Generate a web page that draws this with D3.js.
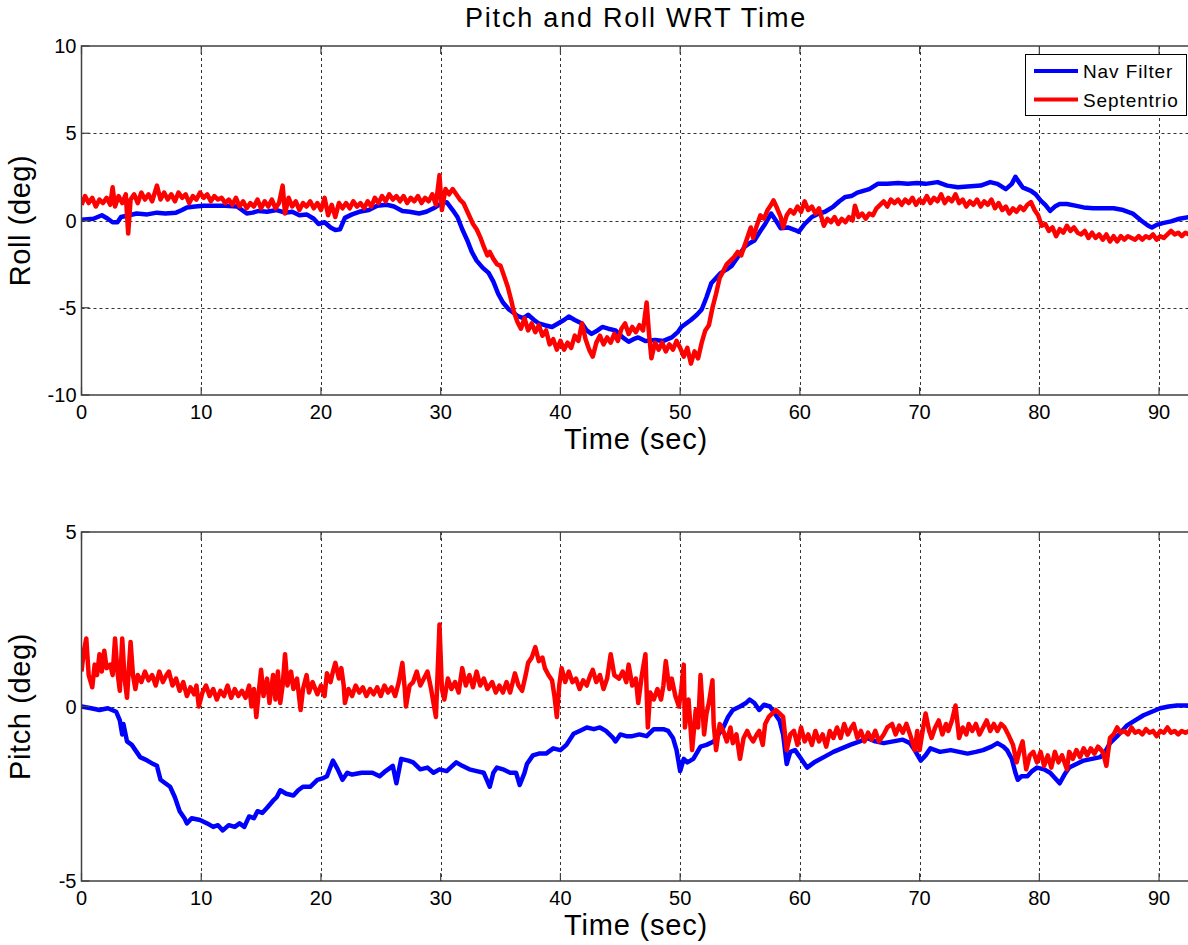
<!DOCTYPE html>
<html><head><meta charset="utf-8">
<script src="https://cdn.jsdelivr.net/npm/d3@7/dist/d3.min.js"></script>
<style>body{margin:0;background:#fff}svg{display:block}text{font-family:Arial,"Liberation Sans",sans-serif;fill:#000}</style>
</head><body><svg id="c" width="1188" height="945"></svg>
<script>
const title = "Pitch and Roll WRT Time";
const legendLabels = ["Nav Filter", "Septentrio"];
const colors = ["#0000ff", "#ff0000"];
const xTicks = [0,10,20,30,40,50,60,70,80,90];
const rollTicks = [-10,-5,0,5,10];
const pitchTicks = [-5,0,5];
const xLabel = "Time (sec)";
const rollLabel = "Roll (deg)";
const pitchLabel = "Pitch (deg)";

const rollNav = [[0,0.05],[1,0.1],[1.7,0.3],[2.2,0.1],[2.6,-0.1],[3.0,-0.1],[3.3,0.2],[4.0,0.3],[4.6,0.4],[5.5,0.35],[6.3,0.45],[7.0,0.4],[7.9,0.45],[8.4,0.6],[8.8,0.75],[9.5,0.8],[10.2,0.85],[11,0.85],[12,0.85],[13,0.8],[13.4,0.6],[13.8,0.4],[14.3,0.45],[14.8,0.55],[15.5,0.5],[16.3,0.6],[17.0,0.45],[17.6,0.5],[18.2,0.3],[18.8,0.35],[19.4,0.1],[19.8,-0.2],[20.3,-0.1],[20.8,-0.4],[21.2,-0.55],[21.6,-0.5],[22.0,0.15],[22.6,0.35],[23.2,0.5],[24.0,0.6],[24.7,0.85],[25.5,0.9],[26.1,0.8],[26.8,0.55],[27.4,0.5],[28.2,0.4],[28.8,0.5],[29.4,0.7],[30.1,1.0],[30.5,1.05],[31.0,0.6],[31.4,0.2],[31.8,-0.5],[32.2,-1.1],[32.6,-1.8],[33.0,-2.3],[33.5,-2.7],[34.0,-3.0],[34.4,-3.5],[34.8,-4.2],[35.2,-4.7],[35.7,-5.1],[36.1,-5.3],[36.5,-5.5],[36.9,-5.6],[37.3,-5.4],[37.8,-5.7],[38.2,-5.9],[38.7,-6.0],[39.3,-6.1],[39.8,-5.9],[40.3,-5.7],[40.7,-5.5],[41.2,-5.7],[41.8,-5.9],[42.2,-6.3],[42.6,-6.5],[43.1,-6.3],[43.5,-6.1],[44.0,-6.2],[44.6,-6.3],[45.2,-6.7],[45.7,-6.95],[46.1,-6.8],[46.5,-6.7],[47.1,-6.9],[47.9,-6.85],[48.6,-6.9],[49.3,-6.7],[49.8,-6.4],[50.1,-6.1],[50.5,-5.9],[50.9,-5.7],[51.4,-5.4],[51.8,-5.1],[52.2,-4.4],[52.6,-3.6],[53.0,-3.3],[53.4,-3.0],[53.9,-2.8],[54.3,-2.6],[54.8,-2.1],[55.4,-1.5],[55.8,-1.3],[56.2,-1.15],[56.7,-0.6],[57.1,-0.2],[57.6,0.4],[58.0,0.0],[58.4,-0.45],[59.0,-0.4],[59.6,-0.55],[59.9,-0.65],[60.4,-0.2],[61.0,0.2],[61.6,0.4],[62.1,0.5],[62.8,0.8],[63.3,1.1],[63.8,1.35],[64.3,1.4],[64.8,1.6],[65.3,1.7],[65.8,1.8],[66.5,2.1],[67.3,2.1],[68.2,2.15],[69.0,2.1],[69.8,2.15],[70.5,2.1],[71.5,2.2],[72.3,2.0],[73.2,1.9],[74.0,1.95],[75.1,2.0],[75.9,2.2],[76.5,2.1],[77.2,1.8],[77.7,2.1],[78.0,2.5],[78.3,2.2],[78.6,1.9],[79.3,1.7],[79.7,1.5],[80.1,1.15],[80.5,0.9],[80.9,0.55],[81.3,0.8],[81.7,0.95],[82.3,0.95],[83.0,0.85],[83.7,0.75],[84.5,0.7],[85.3,0.7],[86.2,0.7],[87.0,0.6],[87.8,0.4],[88.5,0.0],[89.1,-0.3],[89.4,-0.4],[89.8,-0.25],[90.3,-0.15],[91.0,-0.05],[91.7,0.1],[92.5,0.2]];

const rollSept = [[0,0.9],[0.3,1.4],[0.6,1.0],[0.9,1.3],[1.2,0.8],[1.5,1.2],[1.8,1.0],[2.1,1.3],[2.4,0.9],[2.6,1.9],[2.8,0.8],[3.1,1.4],[3.4,1.0],[3.7,1.5],[3.9,-0.75],[4.1,1.2],[4.4,1.5],[4.7,1.0],[5.0,1.6],[5.3,1.2],[5.6,1.5],[5.9,1.1],[6.3,2.0],[6.6,1.2],[6.9,1.6],[7.2,1.2],[7.5,1.5],[7.8,1.1],[8.1,1.6],[8.4,1.3],[8.7,1.5],[9.0,1.0],[9.3,1.4],[9.6,1.2],[9.9,1.6],[10.2,1.3],[10.5,1.5],[10.8,1.1],[11.1,1.4],[11.4,1.2],[11.7,1.3],[12.0,1.0],[12.3,1.2],[12.6,0.9],[12.9,1.3],[13.2,0.8],[13.5,1.1],[13.8,0.7],[14.1,1.0],[14.4,0.8],[14.7,1.2],[15.0,0.7],[15.3,1.1],[15.6,0.8],[15.9,1.2],[16.2,0.7],[16.5,1.0],[16.8,2.0],[17.0,0.4],[17.3,1.3],[17.6,0.8],[17.9,1.1],[18.2,0.6],[18.5,1.0],[18.8,0.8],[19.1,1.1],[19.4,0.7],[19.7,1.0],[20.0,0.6],[20.3,1.3],[20.6,0.3],[20.9,0.9],[21.2,0.2],[21.5,1.0],[21.8,0.7],[22.1,1.0],[22.4,0.7],[22.7,1.1],[23.0,0.8],[23.3,1.0],[23.6,0.7],[23.9,1.1],[24.2,0.8],[24.5,1.3],[24.8,1.0],[25.1,1.4],[25.4,1.1],[25.7,1.5],[26.0,1.2],[26.3,1.4],[26.6,1.1],[26.9,1.4],[27.2,1.0],[27.5,1.3],[27.8,1.1],[28.1,1.4],[28.4,1.0],[28.7,1.3],[29.0,1.1],[29.3,1.5],[29.6,0.9],[29.9,2.6],[30.1,0.6],[30.4,1.8],[30.7,1.5],[31.0,1.8],[31.3,1.5],[31.6,1.2],[31.9,1.0],[32.3,0.4],[32.7,-0.2],[33.0,-0.5],[33.3,-0.95],[33.6,-1.5],[33.9,-2.0],[34.1,-1.8],[34.4,-2.2],[34.7,-2.5],[35.0,-2.6],[35.3,-3.2],[35.6,-3.8],[35.9,-4.6],[36.1,-5.2],[36.4,-5.8],[36.7,-6.2],[37.0,-5.6],[37.3,-6.3],[37.6,-5.9],[37.9,-6.4],[38.2,-6.0],[38.5,-6.6],[38.8,-6.3],[39.1,-7.1],[39.4,-6.8],[39.7,-7.4],[40.0,-6.9],[40.3,-7.4],[40.6,-7.0],[40.9,-7.3],[41.2,-6.6],[41.5,-6.9],[41.8,-5.9],[42.1,-6.8],[42.4,-7.4],[42.7,-7.8],[43.0,-7.0],[43.3,-6.6],[43.6,-7.1],[43.9,-6.7],[44.2,-7.0],[44.5,-6.5],[44.8,-6.9],[45.1,-6.2],[45.4,-5.9],[45.7,-6.5],[46.0,-6.1],[46.3,-6.4],[46.6,-6.0],[46.9,-6.3],[47.2,-4.7],[47.4,-6.5],[47.6,-7.9],[47.9,-7.0],[48.2,-7.4],[48.5,-7.0],[48.8,-7.5],[49.1,-7.1],[49.4,-7.4],[49.7,-6.9],[50.0,-7.3],[50.3,-7.8],[50.6,-7.3],[50.9,-8.2],[51.2,-7.5],[51.5,-7.9],[51.8,-7.0],[52.1,-6.3],[52.4,-6.0],[52.7,-5.0],[53.0,-4.2],[53.3,-3.3],[53.6,-2.9],[53.9,-2.5],[54.2,-2.3],[54.5,-2.1],[54.8,-1.8],[55.1,-2.0],[55.4,-1.4],[55.7,-0.8],[55.9,-0.4],[56.1,-1.0],[56.4,-0.3],[56.7,0.3],[57.0,0.1],[57.3,0.6],[57.6,0.9],[57.8,1.15],[58.1,0.7],[58.4,0.2],[58.6,-0.4],[58.9,0.3],[59.2,0.6],[59.5,0.4],[59.8,0.8],[60.1,0.5],[60.4,1.1],[60.7,0.6],[61.0,0.8],[61.3,0.4],[61.6,0.7],[62.0,-0.3],[62.3,0.1],[62.6,-0.1],[62.9,0.2],[63.2,-0.2],[63.5,0.1],[63.8,-0.1],[64.1,0.2],[64.4,0.0],[64.6,0.85],[64.9,0.2],[65.2,0.4],[65.5,0.1],[65.8,0.4],[66.1,0.3],[66.4,0.7],[66.7,0.9],[67.0,1.1],[67.3,0.8],[67.6,1.2],[67.9,1.0],[68.2,1.2],[68.5,0.9],[68.8,1.2],[69.1,1.0],[69.4,1.3],[69.7,0.9],[70.0,1.2],[70.3,1.0],[70.6,1.4],[70.9,1.0],[71.2,1.3],[71.5,1.1],[71.8,1.5],[72.1,1.0],[72.4,1.3],[72.7,1.1],[73.0,1.5],[73.3,1.0],[73.6,1.2],[73.9,0.8],[74.2,1.1],[74.5,0.9],[74.8,1.2],[75.1,0.8],[75.4,1.1],[75.7,0.9],[76.0,1.2],[76.3,0.7],[76.6,1.0],[76.9,0.6],[77.2,0.8],[77.5,0.4],[77.8,0.7],[78.1,0.5],[78.4,0.8],[78.7,0.6],[79.0,0.9],[79.3,1.05],[79.6,0.6],[79.9,0.3],[80.2,-0.3],[80.5,-0.2],[80.8,-0.6],[81.1,-0.4],[81.4,-0.9],[81.7,-0.5],[82.0,-0.7],[82.3,-0.3],[82.6,-0.6],[82.9,-0.4],[83.2,-0.7],[83.5,-0.8],[83.8,-0.6],[84.1,-1.0],[84.4,-0.7],[84.7,-1.0],[85.0,-0.8],[85.3,-1.1],[85.6,-0.8],[85.9,-1.2],[86.2,-0.9],[86.5,-1.2],[86.8,-0.9],[87.1,-1.1],[87.4,-0.9],[87.7,-1.0],[88.0,-1.1],[88.3,-0.9],[88.6,-1.1],[88.9,-0.9],[89.2,-1.0],[89.5,-0.8],[89.8,-1.1],[90.1,-0.9],[90.4,-1.0],[90.7,-0.8],[91.0,-0.6],[91.3,-0.8],[91.6,-0.7],[91.9,-0.9],[92.2,-0.7],[92.5,-0.8]];

const pitchNav = [[0,0.0],[0.8,-0.05],[1.5,-0.1],[2.2,-0.05],[2.9,-0.15],[3.2,-0.4],[3.4,-0.8],[3.5,-0.5],[3.8,-1.0],[4.2,-1.1],[4.9,-1.45],[5.5,-1.55],[6.0,-1.65],[6.3,-1.7],[6.6,-2.1],[7.0,-2.2],[7.4,-2.3],[7.8,-2.6],[8.2,-3.0],[8.6,-3.2],[8.8,-3.35],[9.2,-3.2],[9.9,-3.25],[10.5,-3.35],[11.0,-3.45],[11.4,-3.4],[11.8,-3.55],[12.3,-3.4],[12.8,-3.45],[13.2,-3.35],[13.6,-3.45],[14.0,-3.15],[14.4,-3.2],[14.7,-3.0],[15.1,-3.05],[15.5,-2.9],[16.0,-2.7],[16.3,-2.6],[16.6,-2.4],[17.1,-2.5],[17.7,-2.55],[18.1,-2.4],[18.5,-2.3],[19.1,-2.3],[19.7,-2.1],[20.2,-2.05],[20.5,-2.0],[21.0,-1.55],[21.4,-1.8],[21.8,-2.1],[22.2,-1.9],[22.6,-1.95],[23.4,-1.9],[24.3,-1.9],[24.9,-2.0],[25.4,-1.85],[26.0,-1.7],[26.3,-2.2],[26.7,-1.5],[27.3,-1.55],[27.7,-1.6],[28.3,-1.8],[28.9,-1.75],[29.4,-1.9],[29.9,-1.8],[30.5,-1.85],[31.3,-1.6],[31.8,-1.7],[32.4,-1.8],[33.0,-1.85],[33.6,-1.9],[34.1,-2.3],[34.4,-1.9],[34.7,-1.75],[35.2,-1.8],[35.8,-1.9],[36.3,-1.9],[36.6,-2.25],[37.0,-1.9],[37.2,-1.65],[37.7,-1.4],[38.2,-1.35],[38.8,-1.35],[39.4,-1.2],[40.0,-1.25],[40.5,-1.1],[41.1,-0.78],[41.6,-0.7],[42.2,-0.6],[42.8,-0.65],[43.3,-0.6],[43.8,-0.7],[44.4,-0.9],[44.6,-1.0],[45.0,-0.8],[45.5,-0.85],[46.0,-0.85],[46.6,-0.8],[47.2,-0.85],[47.8,-0.65],[48.6,-0.65],[49.0,-0.7],[49.4,-0.9],[49.7,-1.25],[50.0,-1.85],[50.3,-1.5],[50.6,-1.6],[51.1,-1.5],[51.7,-1.15],[52.2,-1.1],[52.8,-1.0],[53.2,-0.8],[53.6,-0.6],[54.0,-0.3],[54.4,-0.1],[55.0,0.0],[55.5,0.1],[55.8,0.2],[56.2,0.1],[56.6,-0.1],[57.0,0.05],[57.5,0.0],[57.9,-0.2],[58.3,-0.4],[58.6,-0.8],[58.9,-1.65],[59.2,-1.3],[59.6,-1.25],[60.1,-1.5],[60.6,-1.75],[61.2,-1.6],[62.0,-1.45],[62.8,-1.3],[63.5,-1.2],[64.2,-1.1],[65.0,-1.0],[65.6,-0.9],[66.3,-1.0],[67.0,-1.05],[67.8,-1.0],[68.6,-0.95],[69.2,-1.05],[69.5,-1.2],[70.1,-1.55],[70.5,-1.4],[70.9,-1.2],[71.7,-1.3],[72.6,-1.25],[73.3,-1.3],[74.0,-1.35],[74.7,-1.3],[75.3,-1.25],[76.0,-1.15],[76.5,-1.05],[77.0,-1.15],[77.3,-1.25],[77.7,-1.5],[78.0,-1.9],[78.2,-2.1],[78.5,-2.0],[79.0,-2.0],[79.4,-1.85],[79.8,-1.75],[80.4,-1.8],[80.9,-1.9],[81.3,-2.05],[81.7,-2.2],[82.1,-1.95],[82.5,-1.75],[83.1,-1.65],[83.7,-1.55],[84.4,-1.5],[85.1,-1.45],[85.5,-1.3],[85.9,-1.05],[86.5,-0.85],[87.3,-0.55],[88.0,-0.4],[88.7,-0.25],[89.4,-0.15],[90.1,-0.05],[90.8,0.0],[91.5,0.03],[92.5,0.03]];

const pitchSept = [[0,1.0],[0.2,1.6],[0.4,1.95],[0.6,0.9],[0.9,0.55],[1.1,1.2],[1.3,0.9],[1.5,1.5],[1.7,1.0],[1.9,1.6],[2.1,1.1],[2.4,1.2],[2.6,0.9],[2.8,1.95],[3.0,1.0],[3.2,0.45],[3.4,1.95],[3.6,0.8],[3.8,0.25],[4.1,1.85],[4.3,0.9],[4.5,0.5],[4.7,0.9],[5.0,0.7],[5.3,1.0],[5.6,0.75],[5.9,0.9],[6.2,0.6],[6.5,1.0],[6.8,0.7],[7.1,0.9],[7.3,1.0],[7.6,0.6],[7.9,0.8],[8.2,0.45],[8.5,0.7],[8.8,0.3],[9.1,0.55],[9.4,0.35],[9.6,0.6],[9.8,0.0],[10.1,0.4],[10.4,0.6],[10.7,0.3],[11.0,0.5],[11.3,0.2],[11.6,0.45],[11.9,0.3],[12.2,0.6],[12.5,0.25],[12.8,0.5],[13.1,0.3],[13.4,0.45],[13.7,0.25],[14.0,0.6],[14.2,0.0],[14.4,0.5],[14.6,-0.3],[14.8,0.4],[15.0,1.05],[15.2,0.3],[15.5,0.8],[15.7,0.1],[16.0,0.9],[16.2,0.2],[16.4,1.0],[16.6,0.1],[16.8,0.6],[17.0,1.5],[17.2,0.6],[17.5,1.0],[17.7,0.5],[18.0,0.8],[18.3,-0.1],[18.5,0.5],[18.8,0.9],[19.0,0.4],[19.3,0.7],[19.7,0.35],[20.0,0.6],[20.3,0.3],[20.5,0.95],[20.8,0.7],[21.0,1.0],[21.2,1.25],[21.5,0.8],[21.7,1.1],[21.9,0.6],[22.0,0.1],[22.3,0.5],[22.6,0.3],[22.9,0.6],[23.2,0.4],[23.5,0.55],[23.8,0.3],[24.1,0.5],[24.4,0.35],[24.7,0.55],[25.0,0.3],[25.3,0.6],[25.6,0.4],[25.9,0.55],[26.2,0.3],[26.5,0.7],[26.8,1.25],[27.0,0.5],[27.1,0.0],[27.4,0.6],[27.7,0.7],[28.0,1.0],[28.3,0.6],[28.6,0.8],[28.9,1.0],[29.2,0.5],[29.4,0.1],[29.6,-0.3],[29.9,2.35],[30.1,0.5],[30.3,0.2],[30.6,0.8],[30.9,0.5],[31.2,0.7],[31.5,0.4],[31.8,1.1],[32.1,0.6],[32.4,0.9],[32.7,0.55],[33.0,1.0],[33.3,0.6],[33.6,0.8],[33.9,0.5],[34.3,0.7],[34.6,0.4],[34.9,0.6],[35.2,0.4],[35.5,0.7],[35.8,0.4],[36.2,0.95],[36.5,0.6],[36.8,0.45],[37.1,0.9],[37.3,1.25],[37.6,1.4],[37.9,1.7],[38.2,1.3],[38.5,1.4],[38.7,1.1],[39.0,0.9],[39.3,0.75],[39.5,0.3],[39.7,-0.3],[39.9,0.6],[40.1,1.1],[40.4,0.7],[40.7,1.0],[41.0,0.7],[41.3,0.8],[41.6,0.5],[41.9,0.75],[42.2,0.6],[42.5,0.9],[42.7,1.05],[43.0,0.7],[43.3,0.9],[43.6,0.5],[43.9,0.8],[44.2,1.5],[44.5,0.9],[44.9,0.8],[45.2,1.0],[45.5,0.7],[45.7,1.2],[46.0,0.6],[46.3,0.8],[46.5,0.1],[46.8,0.9],[47.1,1.5],[47.3,-0.6],[47.5,0.4],[47.8,0.2],[48.1,0.5],[48.4,0.2],[48.6,0.6],[48.8,1.3],[49.1,0.5],[49.3,0.8],[49.6,0.3],[49.9,0.0],[50.1,0.5],[50.3,1.2],[50.4,-0.6],[50.7,0.2],[51.0,-1.25],[51.3,-0.1],[51.5,-0.6],[51.7,0.9],[52.0,-0.8],[52.2,-0.2],[52.4,0.1],[52.7,0.75],[52.8,-0.5],[53.0,-1.25],[53.3,-0.5],[53.6,-0.7],[53.9,-1.0],[54.2,-0.6],[54.4,-1.05],[54.7,-0.8],[55.0,-1.5],[55.3,-0.9],[55.6,-0.7],[55.8,-0.85],[56.1,-1.0],[56.4,-0.8],[56.6,-0.7],[56.9,-1.1],[57.1,-0.5],[57.4,-0.3],[57.7,-0.2],[58.0,-0.1],[58.3,-0.2],[58.6,-0.3],[58.9,-1.25],[59.2,-0.8],[59.5,-0.7],[59.8,-1.1],[60.1,-0.6],[60.4,-1.0],[60.7,-0.8],[61.0,-1.1],[61.3,-0.7],[61.6,-1.0],[61.9,-0.8],[62.2,-1.15],[62.5,-0.7],[62.8,-0.9],[63.1,-0.6],[63.4,-0.9],[63.7,-0.5],[64.0,-0.8],[64.3,-0.6],[64.5,-0.5],[64.8,-0.9],[65.1,-0.7],[65.4,-1.0],[65.7,-0.75],[66.0,-0.95],[66.3,-0.7],[66.6,-1.0],[67.0,-0.8],[67.3,-0.6],[67.7,-0.5],[68.0,-0.8],[68.3,-0.55],[68.6,-0.75],[68.9,-0.5],[69.2,-0.8],[69.6,-1.25],[69.8,-0.7],[70.0,-1.25],[70.3,-0.6],[70.5,-0.2],[70.8,-0.7],[71.0,-0.9],[71.3,-0.6],[71.6,-0.4],[71.9,-0.8],[72.2,-0.5],[72.4,-0.7],[72.7,-0.4],[73.0,0.03],[73.3,-0.9],[73.6,-0.6],[73.9,-0.8],[74.1,-0.5],[74.4,-0.7],[74.7,-0.5],[75.0,-0.8],[75.3,-0.6],[75.6,-0.4],[75.9,-0.7],[76.2,-0.5],[76.5,-0.7],[76.8,-0.5],[77.1,-0.6],[77.4,-0.8],[77.8,-1.1],[78.1,-1.6],[78.4,-1.2],[78.6,-1.0],[78.9,-1.8],[79.2,-1.4],[79.5,-1.3],[79.8,-1.6],[80.1,-1.3],[80.4,-1.7],[80.7,-1.4],[81.0,-1.75],[81.3,-1.3],[81.6,-1.6],[81.9,-1.4],[82.3,-1.8],[82.5,-1.3],[82.8,-1.5],[83.1,-1.25],[83.4,-1.45],[83.7,-1.2],[84.0,-1.4],[84.3,-1.2],[84.6,-1.35],[84.9,-1.15],[85.3,-1.3],[85.6,-1.7],[85.9,-0.9],[86.2,-0.8],[86.5,-0.6],[86.8,-0.75],[87.1,-0.7],[87.4,-0.8],[87.7,-0.6],[88.0,-0.75],[88.3,-0.7],[88.6,-0.8],[88.9,-0.65],[89.2,-0.75],[89.5,-0.7],[89.8,-0.85],[90.1,-0.7],[90.4,-0.75],[90.7,-0.6],[91.0,-0.75],[91.3,-0.7],[91.6,-0.8],[91.9,-0.7],[92.2,-0.75],[92.5,-0.7]];

const svg = d3.select("#c");
const L = 81.5, R = 1189;
const x = d3.scaleLinear().domain([0, 92.5]).range([L, R]);

svg.append("text").attr("x", 636).attr("y", 27).attr("text-anchor", "middle")
  .style("font-size", "27px").style("letter-spacing", "1.8px").text(title);

function panel(id, top, bottom, yDomain, yTicks, yLab, series) {
  const y = d3.scaleLinear().domain(yDomain).range([bottom, top]);
  const g = svg.append("g");
  g.append("clipPath").attr("id", id).append("rect")
    .attr("x", L).attr("y", top).attr("width", R - L).attr("height", bottom - top);
  const grid = g.append("g").attr("stroke", "#333").attr("stroke-width", 1).attr("stroke-dasharray", "3,3");
  grid.selectAll(".gx").data(xTicks.filter(t => t > 0)).join("line")
    .attr("x1", d => Math.round(x(d)) + 0.5).attr("x2", d => Math.round(x(d)) + 0.5)
    .attr("y1", top).attr("y2", bottom);
  grid.selectAll(".gy").data(yTicks.filter((t, i) => i > 0 && i < yTicks.length - 1)).join("line")
    .attr("y1", d => Math.round(y(d)) + 0.5).attr("y2", d => Math.round(y(d)) + 0.5)
    .attr("x1", L).attr("x2", R);
  const line = d3.line().x(d => x(d[0])).y(d => y(d[1]));
  const lg = g.append("g").attr("clip-path", `url(#${id})`);
  series.forEach((s, i) => {
    lg.append("path").datum(s).attr("d", line).attr("fill", "none")
      .attr("stroke", colors[i]).attr("stroke-width", 4.5).attr("stroke-linejoin", "round");
  });
  g.append("rect").attr("x", L).attr("y", top).attr("width", R - L).attr("height", bottom - top)
    .attr("fill", "none").attr("stroke", "#404040").attr("stroke-width", 1.5);
  const tk = g.append("g").attr("stroke", "#404040").attr("stroke-width", 1.2);
  tk.selectAll(".tb").data(xTicks).join("line")
    .attr("x1", d => x(d)).attr("x2", d => x(d)).attr("y1", bottom).attr("y2", bottom - 8);
  tk.selectAll(".tt").data(xTicks).join("line")
    .attr("x1", d => x(d)).attr("x2", d => x(d)).attr("y1", top).attr("y2", top + 8);
  tk.selectAll(".tl").data(yTicks).join("line")
    .attr("y1", d => y(d)).attr("y2", d => y(d)).attr("x1", L).attr("x2", L + 8);
  g.selectAll(".xl").data(xTicks).join("text")
    .attr("x", d => x(d)).attr("y", bottom + 24).attr("text-anchor", "middle")
    .style("font-size", "20px").text(d => d);
  g.selectAll(".yl").data(yTicks).join("text")
    .attr("x", L - 5).attr("y", d => y(d) + 7).attr("text-anchor", "end")
    .style("font-size", "20px").text(d => d);
  g.append("text").attr("x", 636).attr("y", bottom + 54).attr("text-anchor", "middle")
    .style("font-size", "29px").style("letter-spacing", "0.8px").text(xLabel);
  g.append("text").attr("transform", `translate(30,${(top + bottom) / 2}) rotate(-90)`)
    .attr("text-anchor", "middle").style("font-size", "29px").style("letter-spacing", "0.6px").text(yLab);
  return g;
}

panel("c1", 46, 395, [-10, 10], rollTicks, rollLabel, [rollNav, rollSept]);
panel("c2", 532, 881, [-5, 5], pitchTicks, pitchLabel, [pitchNav, pitchSept]);

const lgd = svg.append("g");
lgd.append("rect").attr("x", 1025.5).attr("y", 54.5).attr("width", 161).attr("height", 61)
  .attr("fill", "#fff").attr("stroke", "#000").attr("stroke-width", 1);
legendLabels.forEach((t, i) => {
  const yy = 71 + i * 28.5;
  lgd.append("line").attr("x1", 1034).attr("x2", 1078).attr("y1", yy).attr("y2", yy)
    .attr("stroke", colors[i]).attr("stroke-width", 4);
  lgd.append("text").attr("x", 1083).attr("y", yy + 7).style("font-size", "19px")
    .style("letter-spacing", "0.9px").text(t);
});
</script></body></html>
